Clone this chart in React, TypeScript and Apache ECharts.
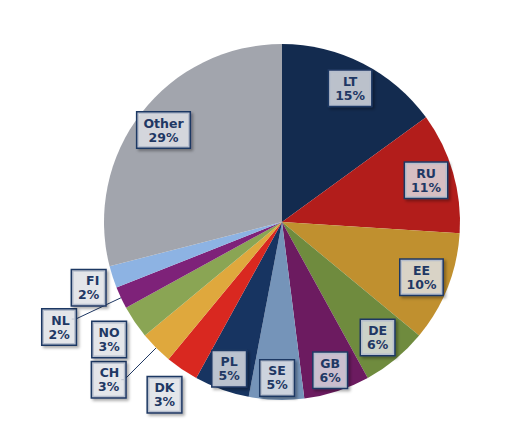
import React, { useEffect, useRef } from 'react';
import * as echarts from 'echarts';

const categories = ['LT', 'RU', 'EE', 'DE', 'GB', 'SE', 'PL', 'DK', 'CH', 'NO', 'NL', 'FI', 'Other'];
const shares = [15, 11, 10, 6, 6, 5, 5, 3, 3, 3, 2, 2, 29];
const sliceColors = ['#132b4f', '#b21d1b', '#c0902f', '#6f8b3e', '#6c1b60', '#7594b9', '#173461', '#d92820', '#dfa83d', '#8aa554', '#7e2279', '#8db3e3', '#a2a5ad'];

// label groups (which ring each label sits in)
const innerLabels = ['LT', 'RU', 'EE', 'DE', 'Other'];
const lowerLabels = ['GB', 'SE', 'PL'];
const outerLabels = ['DK', 'NO'];
const leaderLabels = ['CH', 'NL'];
const edgeLabels = ['FI'];

const NAVY = '#1f3864';
const CENTER = [282, 222];
const R = 178;

const labelBox = {
  formatter: '{b}\n{c}%',
  color: NAVY,
  fontFamily: 'DejaVu Sans',
  fontWeight: 'bold',
  fontSize: 12.5,
  lineHeight: 14,
  backgroundColor: 'rgba(230,233,238,0.76)',
  borderColor: NAVY,
  borderWidth: 1.5,
  padding: [4, 6, 3, 6],
  shadowColor: 'rgba(0,0,0,0.35)',
  shadowBlur: 3,
  shadowOffsetX: 2,
  shadowOffsetY: 2,
};

function labelSeries(names: string[], radius: number[]) {
  return {
    type: 'pie',
    center: CENTER,
    radius,
    startAngle: 90,
    clockwise: true,
    silent: true,
    avoidLabelOverlap: false,
    itemStyle: { color: 'rgba(0,0,0,0)' },
    emphasis: { disabled: true },
    labelLine: { show: false },
    data: categories.map((c, i) => ({
      name: c,
      value: shares[i],
      label: { show: names.includes(c), position: 'inside', ...labelBox, align: 'center' },
    })),
  };
}

const leaderLen: Record<string, number[]> = { CH: [45, 3], NL: [50, 4], FI: [12, 0] };
const labelNudge: Record<string, { dx: number; dy: number }> = {
  FI: { dx: 4, dy: 7 },
  NL: { dx: 4, dy: 8 },
  CH: { dx: 4, dy: 0 },
};

export default function App() {
  const ref = useRef<HTMLDivElement>(null);
  useEffect(() => {
    if (!ref.current) return;
    const chart = echarts.init(ref.current, null, { renderer: 'svg' });
    chart.setOption({
      animation: false,
      backgroundColor: '#ffffff',
      series: [
        {
          type: 'pie',
          center: CENTER,
          radius: R,
          startAngle: 90,
          clockwise: true,
          silent: true,
          avoidLabelOverlap: false,
          emphasis: { disabled: true },
          label: { show: false },
          labelLayout: (p: any) => labelNudge[categories[p.dataIndex]] || {},
          data: categories.map((c, i) => {
            const lead = leaderLabels.includes(c);
            const edge = edgeLabels.includes(c);
            return {
              name: c,
              value: shares[i],
              itemStyle: { color: sliceColors[i] },
              label:
                lead || edge
                  ? { show: true, position: 'outside', distanceToLabelLine: 0, ...labelBox }
                  : { show: false },
              labelLine:
                lead || edge
                  ? {
                      show: lead,
                      length: leaderLen[c][0],
                      length2: leaderLen[c][1],
                      lineStyle: { color: NAVY, width: 1 },
                    }
                  : { show: false },
            };
          }),
        },
        labelSeries(innerLabels, [116, R]),
        labelSeries(lowerLabels, [128, R]),
        labelSeries(outerLabels, [R, 234]),
      ],
    });
    return () => chart.dispose();
  }, []);
  return <div ref={ref} style={{ position: 'fixed', left: 0, top: 0, width: 528, height: 444 }} />;
}
